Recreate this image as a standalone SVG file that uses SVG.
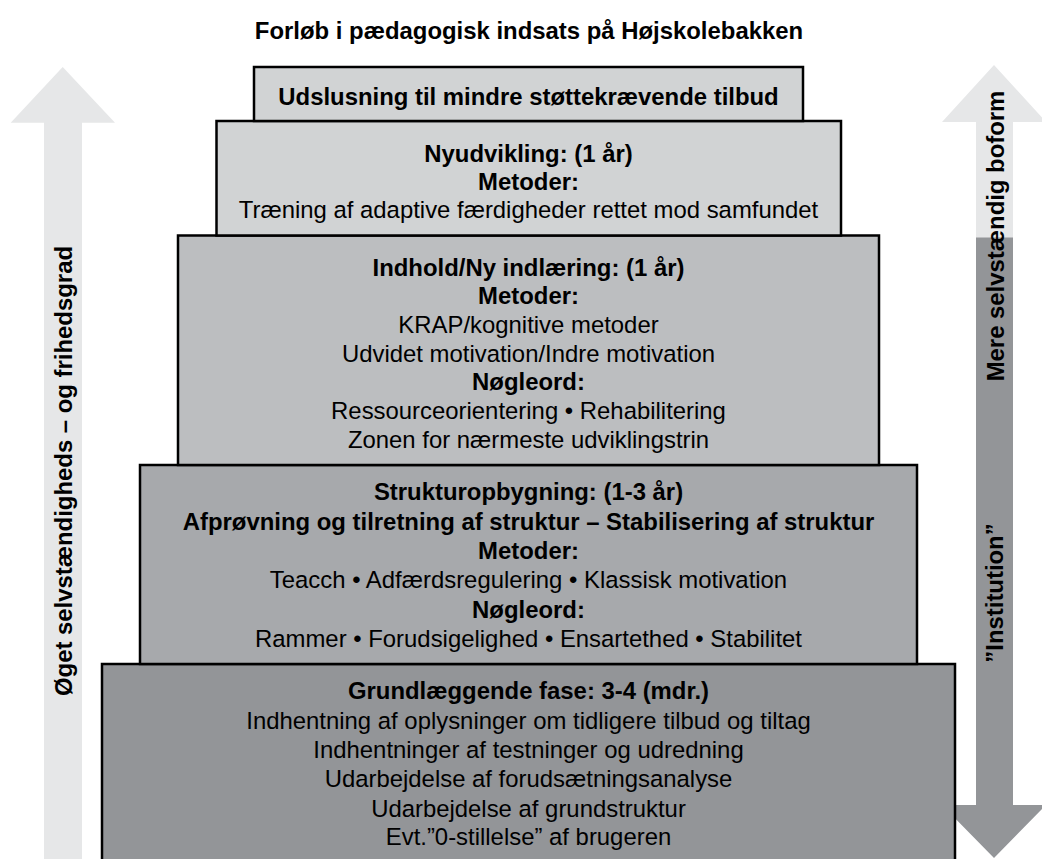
<svg xmlns="http://www.w3.org/2000/svg" width="1042" height="859" viewBox="0 0 1042 859">
<style>
text{font-family:"Liberation Sans",Arial,Helvetica,sans-serif;font-size:23.9px;fill:#000;text-anchor:middle}
.b{font-weight:bold;font-size:23.9px}
.box{stroke:#000;stroke-width:2.5}
.l1{fill:#d1d3d4}.l2{fill:#d1d3d4}.l3{fill:#bcbec0}.l4{fill:#a7a9ac}.l5{fill:#939598}
.light{fill:#e6e7e8}.dark{fill:#939598}
</style>
<rect width="1042" height="859" fill="#fff"/>
<text id="title" class="b" x="529" y="39">Forløb i pædagogisk indsats på Højskolebakken</text>
<g id="side-arrows">
<g id="arrow-left">
<polygon class="light" points="62.7,67 115,122.7 82,122.7 82,859 44,859 44,122.7 10.7,122.7"/>
<text class="b" transform="translate(72,471) rotate(-90)">Øget selvstændigheds – og frihedsgrad</text>
</g>
<g id="arrow-right">
<polygon class="light" points="994,65 1046,122 1013,122 1013,238 976,238 976,122 942,122"/>
<polygon class="dark" points="976,237.5 1013,237.5 1013,805 1046,805 994,858 942,805 976,805"/>
<text class="b" transform="translate(1004,236) rotate(-90)">Mere selvstændig boform</text>
<text class="b" transform="translate(1003,593) rotate(-90)">”Institution”</text>
</g>
</g>
<g id="box5">
<rect class="box l5" x="102" y="664" width="853" height="210"/>
<text class="b" x="528.5" y="699">Grundlæggende fase: 3-4 (mdr.)</text>
<text x="528.5" y="729">Indhentning af oplysninger om tidligere tilbud og tiltag</text>
<text x="528.5" y="758">Indhentninger af testninger og udredning</text>
<text x="528.5" y="787">Udarbejdelse af forudsætningsanalyse</text>
<text x="528.5" y="816.5">Udarbejdelse af grundstruktur</text>
<text x="528.5" y="845">Evt.”0-stillelse” af brugeren</text>
</g>
<g id="box4">
<rect class="box l4" x="140" y="465" width="777" height="199"/>
<text class="b" x="528.5" y="500">Strukturopbygning: (1-3 år)</text>
<text class="b" x="528.5" y="529.5">Afprøvning og tilretning af struktur – Stabilisering af struktur</text>
<text class="b" x="528.5" y="558.5">Metoder:</text>
<text x="528.5" y="588">Teacch • Adfærdsregulering • Klassisk motivation</text>
<text class="b" x="528.5" y="617.5">Nøgleord:</text>
<text x="528.5" y="647">Rammer • Forudsigelighed • Ensartethed • Stabilitet</text>
</g>
<g id="box3">
<rect class="box l3" x="178" y="235.5" width="701" height="229.5"/>
<text class="b" x="528.5" y="275.5">Indhold/Ny indlæring: (1 år)</text>
<text class="b" x="528.5" y="304">Metoder:</text>
<text x="528.5" y="332.8">KRAP/kognitive metoder</text>
<text x="528.5" y="361.5">Udvidet motivation/Indre motivation</text>
<text class="b" x="528.5" y="390.2">Nøgleord:</text>
<text x="528.5" y="419">Ressourceorientering • Rehabilitering</text>
<text x="528.5" y="447.8">Zonen for nærmeste udviklingstrin</text>
</g>
<g id="box2">
<rect class="box l2" x="216.5" y="121" width="624.5" height="114.5"/>
<text class="b" x="528.5" y="162">Nyudvikling: (1 år)</text>
<text class="b" x="528.5" y="190">Metoder:</text>
<text x="528.5" y="218">Træning af adaptive færdigheder rettet mod samfundet</text>
</g>
<g id="box1">
<rect class="box l1" x="254" y="67" width="549" height="54"/>
<text class="b" x="528.5" y="104.5">Udslusning til mindre støttekrævende tilbud</text>
</g>
</svg>
